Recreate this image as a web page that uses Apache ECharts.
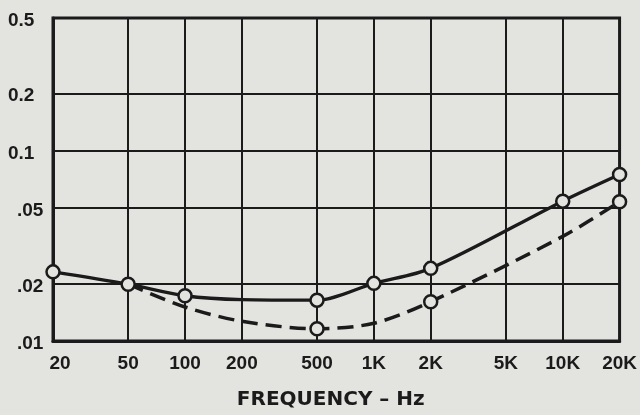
<!DOCTYPE html>
<html>
<head>
<meta charset="utf-8">
<script src="https://cdn.jsdelivr.net/npm/echarts@6/dist/echarts.min.js"></script>
<style>
html,body{margin:0;padding:0;background:#e3e3e0;}
#chart{width:640px;height:415px;}
</style>
</head>
<body>
<div id="chart"></div>
<script>
// Frequency ticks (Hz) and their labels
const xTicks = [20, 50, 100, 200, 500, 1000, 2000, 5000, 10000, 20000];
const xTickLabels = ['20', '50', '100', '200', '500', '1K', '2K', '5K', '10K', '20K'];
// Vertical ticks and labels
const yTicks = [0.01, 0.02, 0.05, 0.1, 0.2, 0.5];
const yTickLabels = ['.01', '.02', '.05', '0.1', '0.2', '0.5'];

// Solid curve
const solidFreqs = [20, 50, 100, 200, 500, 1000, 2000, 10000, 20000];
const solidValues = [0.0231, 0.0199, 0.0173, 0.0165, 0.0164, 0.0201, 0.0241, 0.0544, 0.0751];
const solidMarked = [1, 1, 1, 0, 1, 1, 1, 1, 1];

// Dashed curve
const dashedFreqs = [50, 100, 200, 500, 1000, 2000, 10000, 20000];
const dashedValues = [0.0199, 0.0151, 0.0127, 0.0116, 0.0124, 0.0161, 0.0355, 0.054];
const dashedMarked = [0, 0, 0, 1, 0, 1, 0, 1];

const INK = '#1b1b1b';
const PAPER = '#e3e3e0';
const L = Math.log10;

function build(fs, vs, marks) {
  return fs.map((f, i) => marks[i]
    ? { value: [L(f), L(vs[i])] }
    : { value: [L(f), L(vs[i])], symbol: 'none' });
}
function lookup(v, ticks, labels) {
  for (let i = 0; i < ticks.length; i++) {
    if (Math.abs(L(ticks[i]) - v) < 1e-6) return labels[i];
  }
  return '';
}

const chart = echarts.init(document.getElementById('chart'), null, { renderer: 'canvas' });
const labelFont = { fontFamily: 'Liberation Sans, Arial, sans-serif', fontWeight: 'bold', fontSize: 19, color: INK };

chart.setOption({
  backgroundColor: PAPER,
  animation: false,
  grid: { left: 53, top: 18, width: 569, height: 324, show: true, borderWidth: 3, borderColor: INK, backgroundColor: 'transparent' },
  xAxis: {
    type: 'value',
    min: L(20), max: L(20000),
    name: 'FREQUENCY – Hz',
    nameLocation: 'middle',
    nameGap: 49,
    nameTextStyle: { fontFamily: 'DejaVu Sans, sans-serif', fontWeight: 'bold', fontSize: 20, color: INK, padding: [0, 11, 0, 0] },
    axisLine: { show: true, lineStyle: { color: INK, width: 3 } },
    axisTick: { show: false, customValues: xTicks.map(L) },
    splitLine: { show: true, lineStyle: { color: INK, width: 2 } },
    axisLabel: {
      customValues: xTicks.map(L),
      margin: 13,
      ...labelFont,
      formatter: v => {
        const s = lookup(v, xTicks, xTickLabels);
        return s === '20' ? '{f|' + s + '}' : '{n|' + s + '}';
      },
      rich: {
        f: { ...labelFont, padding: [0, 0, 0, 14] },
        n: { ...labelFont }
      }
    }
  },
  yAxis: {
    type: 'value',
    min: L(0.01), max: L(0.5),
    axisLine: { show: true, lineStyle: { color: INK, width: 3 } },
    axisTick: { show: false, customValues: yTicks.map(L) },
    splitLine: { show: true, lineStyle: { color: INK, width: 2 } },
    axisLabel: {
      customValues: yTicks.map(L),
      margin: 45,
      align: 'left',
      ...labelFont,
      formatter: v => {
        const s = lookup(v, yTicks, yTickLabels);
        return s.charAt(0) === '.' ? '{b|' + s + '}' : '{a|' + s + '}';
      },
      rich: {
        a: { ...labelFont, padding: [5, 0, 0, 0] },
        b: { ...labelFont, padding: [5, 0, 0, 9] }
      }
    }
  },
  series: [
    {
      type: 'line',
      data: build(solidFreqs, solidValues, solidMarked),
      smooth: 0.3,
      symbol: 'circle',
      symbolSize: 13,
      lineStyle: { color: INK, width: 3.3 },
      itemStyle: { color: PAPER, borderColor: INK, borderWidth: 2.5 },
      z: 3
    },
    {
      type: 'line',
      data: build(dashedFreqs, dashedValues, dashedMarked),
      smooth: 0.3,
      symbol: 'circle',
      symbolSize: 13,
      lineStyle: { color: INK, width: 3.5, type: [16, 8] },
      itemStyle: { color: PAPER, borderColor: INK, borderWidth: 2.5 },
      z: 2
    }
  ]
});
</script>
</body>
</html>
